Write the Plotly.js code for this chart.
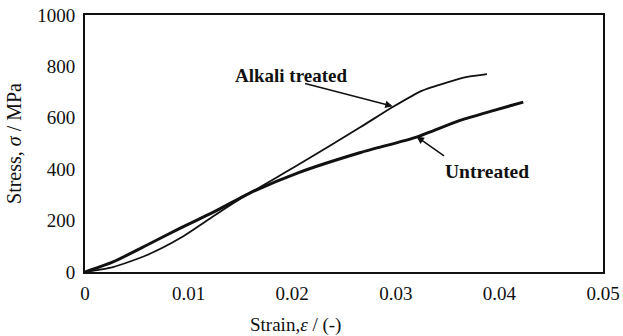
<!DOCTYPE html>
<html>
<head>
<meta charset="utf-8">
<script src="https://cdn.plot.ly/plotly-3.0.1.min.js"></script>
<style>html,body{margin:0;padding:0;background:#fff}#chart{width:623px;height:336px}</style>
</head>
<body>
<div id="chart"></div>
<script>
// Data
const untreatedStrain = [0, 0.0027, 0.006, 0.0092, 0.0124, 0.0159, 0.0205, 0.0266, 0.032, 0.0362, 0.0394, 0.0423];
const untreatedStress = [0, 39, 105, 171, 233, 307, 385, 465, 525, 590, 628, 661];
const alkaliStrain = [0, 0.0027, 0.006, 0.0092, 0.0125, 0.0159, 0.0205, 0.0266, 0.0297, 0.0325, 0.0349, 0.0369, 0.0388];
const alkaliStress = [0, 19, 66, 132, 220, 307, 415, 564, 642, 705, 737, 759, 770];
const xTicks = [0, 0.01, 0.02, 0.03, 0.04, 0.05];
const xTickLabels = ['0', '0.01', '0.02', '0.03', '0.04', '0.05'];
const yTicks = [0, 200, 400, 600, 800, 1000];
const yTickLabels = ['0', '200', '400', '600', '800', '1000'];

const serif = "'Liberation Serif', 'Times New Roman', serif";

const traces = [
  {x: untreatedStrain, y: untreatedStress, mode: 'lines', name: 'Untreated',
   line: {color: '#111', width: 3, shape: 'spline', smoothing: 0.6}},
  {x: alkaliStrain, y: alkaliStress, mode: 'lines', name: 'Alkali treated',
   line: {color: '#111', width: 1.8, shape: 'spline', smoothing: 0.6}}
];

const layout = {
  width: 623, height: 336,
  margin: {l: 85, r: 20, t: 15, b: 64},
  paper_bgcolor: '#fff', plot_bgcolor: '#fff',
  showlegend: false,
  font: {family: serif, color: '#111', size: 19},
  xaxis: {
    range: [0, 0.05], tickvals: xTicks, ticktext: xTickLabels,
    showgrid: false, zeroline: false, showline: true, linecolor: '#111', linewidth: 2,
    mirror: true, ticks: '', ticklabelstandoff: 3, tickfont: {family: serif, size: 19, color: '#111'}
  },
  yaxis: {
    range: [0, 1000], tickvals: yTicks, ticktext: yTickLabels,
    showgrid: false, zeroline: false, showline: true, linecolor: '#111', linewidth: 2,
    mirror: true, ticks: '', ticklabelstandoff: 4, tickfont: {family: serif, size: 19, color: '#111'},
    title: {text: 'Stress, <i>σ</i> / MPa', font: {family: serif, size: 20, color: '#111'}, standoff: 10}
  },
  annotations: [
    {xref: 'paper', yref: 'paper', x: 0.407, y: -0.206, xanchor: 'center', yanchor: 'middle',
     text: 'Strain,<i>ε</i> / (-)', showarrow: false, font: {family: serif, size: 19, color: '#111'}},
    {x: 0.0297, y: 645, xref: 'x', yref: 'y', ax: 0.0211, ay: 735, axref: 'x', ayref: 'y', text: '',
     showarrow: true, arrowhead: 2, arrowsize: 1, arrowwidth: 1.5, arrowcolor: '#111'},
    {x: 0.0199, y: 764, xref: 'x', yref: 'y', text: '<b>Alkali treated</b>', showarrow: false,
     font: {family: serif, size: 19, color: '#111'}},
    {x: 0.032, y: 527, xref: 'x', yref: 'y', text: '', showarrow: true, arrowhead: 2, arrowsize: 1,
     arrowwidth: 1.5, arrowcolor: '#111', ax: 0.0348, ay: 448, axref: 'x', ayref: 'y'},
    {x: 0.0388, y: 393, xref: 'x', yref: 'y', text: '<b>Untreated</b>', showarrow: false,
     font: {family: serif, size: 19.5, color: '#111'}}
  ]
};

Plotly.newPlot('chart', traces, layout, {displayModeBar: false, staticPlot: true});
</script>
</body>
</html>
